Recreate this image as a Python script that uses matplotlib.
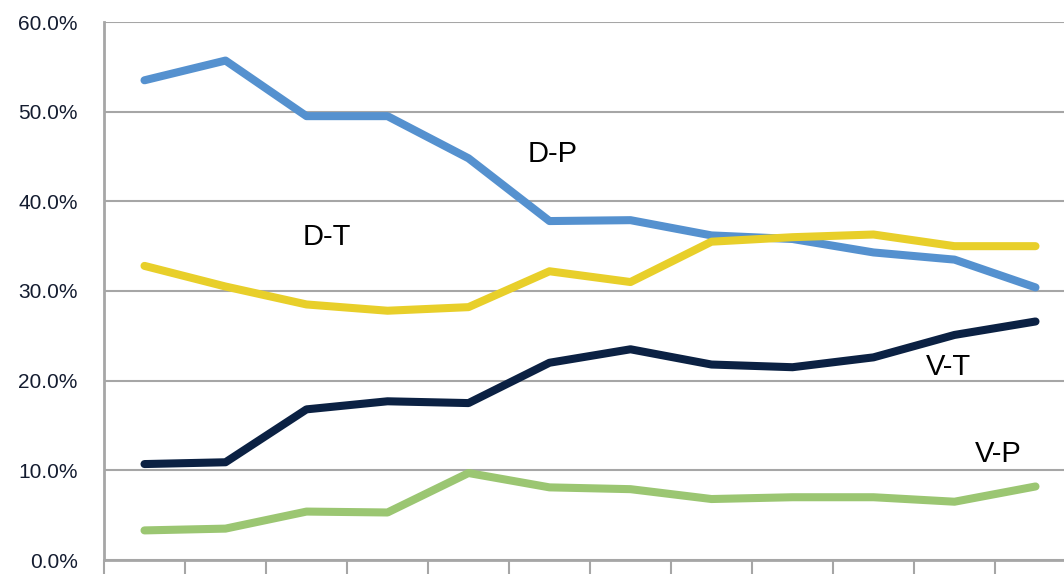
import matplotlib.pyplot as plt
import numpy as np
from matplotlib.ticker import FuncFormatter

plt.rcParams['font.family'] = ['Liberation Sans', 'DejaVu Sans']

# data (percent), 12 periods
periods = np.arange(12)
d_p = [53.5, 55.7, 49.5, 49.5, 44.8, 37.8, 37.9, 36.2, 35.8, 34.3, 33.5, 30.4]
d_t = [32.8, 30.5, 28.5, 27.8, 28.2, 32.2, 31.0, 35.5, 36.0, 36.3, 35.0, 35.0]
v_t = [10.7, 10.9, 16.8, 17.7, 17.5, 22.0, 23.5, 21.8, 21.5, 22.6, 25.1, 26.6]
v_p = [3.3, 3.5, 5.4, 5.3, 9.7, 8.1, 7.9, 6.8, 7.0, 7.0, 6.5, 8.2]

series = [
    ('D-P', d_p, '#5591cf', (5.04, 45.3)),
    ('D-T', d_t, '#e8cf2a', (2.25, 36.0)),
    ('V-T', v_t, '#0b2143', (9.93, 21.5)),
    ('V-P', v_p, '#9bc672', (10.54, 11.8)),
]

fig = plt.figure(figsize=(10.64, 5.74), dpi=100)
ax = fig.add_axes([104 / 1064, 14 / 574, 972 / 1064, 538 / 574])

grid_c = '#a6a6a6'
for name, vals, c, pos in series:
    ax.plot(periods, vals, color=c, lw=5.8, solid_capstyle='round', solid_joinstyle='round', zorder=3)
    ax.text(pos[0], pos[1], name, fontsize=21, ha='center', va='center', color='black')

ax.set_xlim(-0.5, 11.5)
ax.set_ylim(0, 60)
ax.set_yticks(np.arange(0, 61, 10))
ax.yaxis.set_major_formatter(FuncFormatter(lambda v, p: f'{v:.1f}%'))
ax.set_xticks(np.arange(-0.5, 11.6, 1))
ax.set_xticklabels([])
ax.tick_params(axis='x', direction='out', length=14, width=1.5, color=grid_c)
ax.tick_params(axis='y', length=0, labelsize=15, labelcolor='#141c30', pad=19)
ax.grid(axis='y', color=grid_c, lw=1.5)
for s in ['top', 'right']:
    ax.spines[s].set_visible(False)
for s in ['left', 'bottom']:
    ax.spines[s].set_color(grid_c)
    ax.spines[s].set_linewidth(2)
ax.set_axisbelow(True)

plt.savefig('out.png', dpi=100)
